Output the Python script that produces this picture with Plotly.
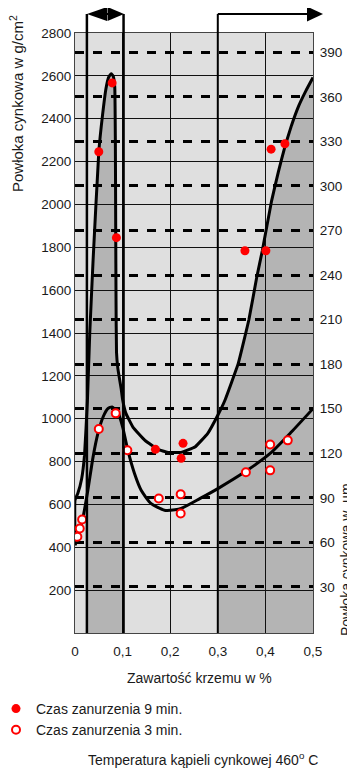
import numpy as np
import plotly.graph_objects as go

# ---------------- data ----------------
# 9 min immersion curve (g/m2 vs % Si)
curve9_x = [0.0, 0.0, 0.006, 0.014, 0.020, 0.026, 0.031, 0.038, 0.050, 0.058, 0.065, 0.071,
            0.076, 0.080, 0.0835, 0.0848, 0.0855, 0.0862, 0.0872, 0.090, 0.094, 0.097, 0.100,
            0.107, 0.122, 0.147, 0.174, 0.195, 0.223, 0.252, 0.279, 0.300, 0.315, 0.343,
            0.3655, 0.3817, 0.3935, 0.413, 0.427, 0.441, 0.455, 0.470, 0.485, 0.500]
curve9_y = [410, 620, 652, 720, 830, 1080, 1400, 1740, 2246, 2420, 2540, 2595,
            2610, 2600, 2550, 2300, 1900, 1550, 1310, 1235, 1180, 1140, 1090,
            1025, 960, 899, 857, 843, 843, 868, 932, 1016, 1086, 1258,
            1464, 1659, 1784, 2017, 2150, 2270, 2370, 2460, 2530, 2592]

# 3 min immersion curve
curve3_x = [0.0, 0.006, 0.017, 0.027, 0.038, 0.048, 0.059, 0.069, 0.078, 0.085, 0.090,
            0.100, 0.111, 0.125, 0.139, 0.160, 0.188, 0.210, 0.223, 0.263, 0.301, 0.357,
            0.410, 0.455, 0.500]
curve3_y = [410, 449, 542, 666, 822, 930, 1008, 1047, 1055, 1042, 1031,
            962, 853, 744, 666, 604, 573, 575, 581, 628, 675, 752,
            838, 939, 1047]

# measured points
pts9_x = [0.050, 0.078, 0.087, 0.169, 0.227, 0.223, 0.357, 0.401, 0.412, 0.441]
pts9_y = [2246, 2567, 1845, 857, 885, 815, 1784, 1784, 2258, 2283]

pts3_x = [0.005, 0.010, 0.015, 0.050, 0.0855, 0.110, 0.176, 0.222, 0.222, 0.359, 0.410, 0.410, 0.447]
pts3_y = [449, 488, 530, 952, 1025, 853, 628, 647, 558, 750, 880, 759, 899]

# axes
x_ticks = [0, 0.1, 0.2, 0.3, 0.4, 0.5]
x_ticktext = ["0", "0,1", "0,2", "0,3", "0,4", "0,5"]
y_ticks = list(range(200, 2801, 200))
y2_ticks = list(range(30, 391, 30))

# shaded columns (ranges of Si content)
dark_columns = [(0.025, 0.1), (0.3, 0.5)]

LIGHT = "#dfdfdf"
DARK = "#b4b4b4"
FONT = "Liberation Sans, Arial, sans-serif"
TXT = "#1a1a1a"

# page has an 8px body margin: compensate so the plot sits at page x 75..313, y 33..633
OFF = 8
W, H = 355 - OFF, 769 - OFF
PL, PR, PT, PB = 75, 313, 33, 633
ML, MT = PL - OFF, PT - OFF
MR, MB = W - (PR - OFF), H - (PB - OFF)
PW, PH = PR - PL, PB - PT


def px(x_page):
    return (x_page - PL) / PW


def py(y_page):
    return (PB - y_page) / PH


# ---------------- shapes ----------------
shapes = []
cx = np.array(curve9_x[1:])
cy = np.array(curve9_y[1:])
for a, b in dark_columns:
    xs = [a] + [x for x in cx if a < x < b] + [b]
    ys = list(np.interp(xs, cx, cy))
    path = f"M {a},0 " + " ".join(f"L {x},{y}" for x, y in zip(xs, ys)) + f" L {b},0 Z"
    shapes.append(dict(type="path", xref="x", yref="y", path=path,
                       fillcolor=DARK, line=dict(width=0), layer="below"))

top = py(14)
# thick vertical boundary lines
for xv, w in [(0.025, 2.5), (0.102, 2.5), (0.3, 2)]:
    shapes.append(dict(type="line", xref="paper", yref="paper", x0=xv / 0.5, x1=xv / 0.5,
                       y0=0, y1=top, line=dict(color="black", width=w)))
# double arrow
shapes.append(dict(type="line", xref="paper", yref="paper", x0=px(100), x1=px(115),
                   y0=top, y1=top, line=dict(color="black", width=2)))
shapes.append(dict(type="path", xref="paper", yref="paper",
                   path=f"M {px(87)},{py(14)} L {px(107)},{py(7)} L {px(107)},{py(21)} Z",
                   fillcolor="black", line=dict(width=0)))
shapes.append(dict(type="path", xref="paper", yref="paper",
                   path=f"M {px(124)},{py(14)} L {px(107.5)},{py(7)} L {px(107.5)},{py(21)} Z",
                   fillcolor="black", line=dict(width=0)))
# right arrow
shapes.append(dict(type="line", xref="paper", yref="paper", x0=0.6, x1=px(309),
                   y0=top, y1=top, line=dict(color="black", width=2)))
shapes.append(dict(type="path", xref="paper", yref="paper",
                   path=f"M {px(307)},{py(6.5)} L {px(323)},{py(14)} L {px(307)},{py(21.5)} Z",
                   fillcolor="black", line=dict(width=0)))

# ---------------- traces ----------------
fig = go.Figure()
fig.add_trace(go.Scatter(x=curve9_x, y=curve9_y, mode="lines",
                         line=dict(color="black", width=3, shape="spline", smoothing=0.3),
                         showlegend=False, hoverinfo="skip"))
fig.add_trace(go.Scatter(x=curve3_x, y=curve3_y, mode="lines",
                         line=dict(color="black", width=3, shape="spline", smoothing=0.6),
                         showlegend=False, hoverinfo="skip"))
fig.add_trace(go.Scatter(x=pts9_x, y=pts9_y, mode="markers", name="Czas zanurzenia 9 min.",
                         marker=dict(color="#ff0000", size=9, line=dict(width=0))))
fig.add_trace(go.Scatter(x=pts3_x, y=pts3_y, mode="markers", name="Czas zanurzenia 3 min.",
                         marker=dict(color="white", size=8, line=dict(color="#ff0000", width=2))))
fig.add_trace(go.Scatter(x=[None], y=[None], yaxis="y2", showlegend=False, hoverinfo="skip"))


def ann(text, xpg, ypg, angle=0, size=14):
    return dict(text=text, x=px(xpg), y=py(ypg), xref="paper", yref="paper",
                xanchor="center", yanchor="middle", showarrow=False, textangle=angle,
                font=dict(size=size, color=TXT, family=FONT))


annotations = [
    ann("Zawartość krzemu w %", 199, 678),
    ann("Temperatura kąpieli cynkowej 460<sup>o</sup> C", 203, 759),
    ann("Powłoka cynkowa w g/cm<sup>2</sup>", 17, 104, -90, 15),
    ann("Powłoka cynkowa w  µm", 346, 560, -90),
]

fig.update_layout(
    width=W, height=H,
    margin=dict(l=ML, r=MR, t=MT, b=MB, pad=0, autoexpand=False),
    paper_bgcolor="white", plot_bgcolor=LIGHT,
    font=dict(family=FONT, color=TXT, size=13.5),
    shapes=shapes, annotations=annotations,
    showlegend=True,
    legend=dict(x=px(-4), xanchor="left", y=py(693), yanchor="top",
                font=dict(size=14, color=TXT, family=FONT), bgcolor="rgba(0,0,0,0)",
                tracegroupgap=0),
    xaxis=dict(range=[0, 0.5], tickvals=x_ticks, ticktext=x_ticktext, showgrid=True,
               gridcolor="#111111", gridwidth=1, zeroline=False, showline=True, mirror=True,
               linecolor="#444444", linewidth=1, ticks="outside", ticklen=6,
               tickcolor="rgba(0,0,0,0)", tickfont=dict(size=13.5)),
    yaxis=dict(range=[0, 2800], tickvals=y_ticks, showgrid=True, gridcolor="#111111",
               gridwidth=1, zeroline=False, showline=True, mirror=True, linecolor="#444444",
               linewidth=1, ticks="", tickfont=dict(size=13.5)),
    yaxis2=dict(range=[-1, 403], tickvals=y2_ticks, overlaying="y", side="right",
                showgrid=True, gridcolor="#000000", gridwidth=2.5, griddash="9px,9px",
                zeroline=False, showline=False, ticks="outside", ticklen=3,
                tickcolor="rgba(0,0,0,0)", tickfont=dict(size=13.5)),
)

fig.write_html("out.html")
